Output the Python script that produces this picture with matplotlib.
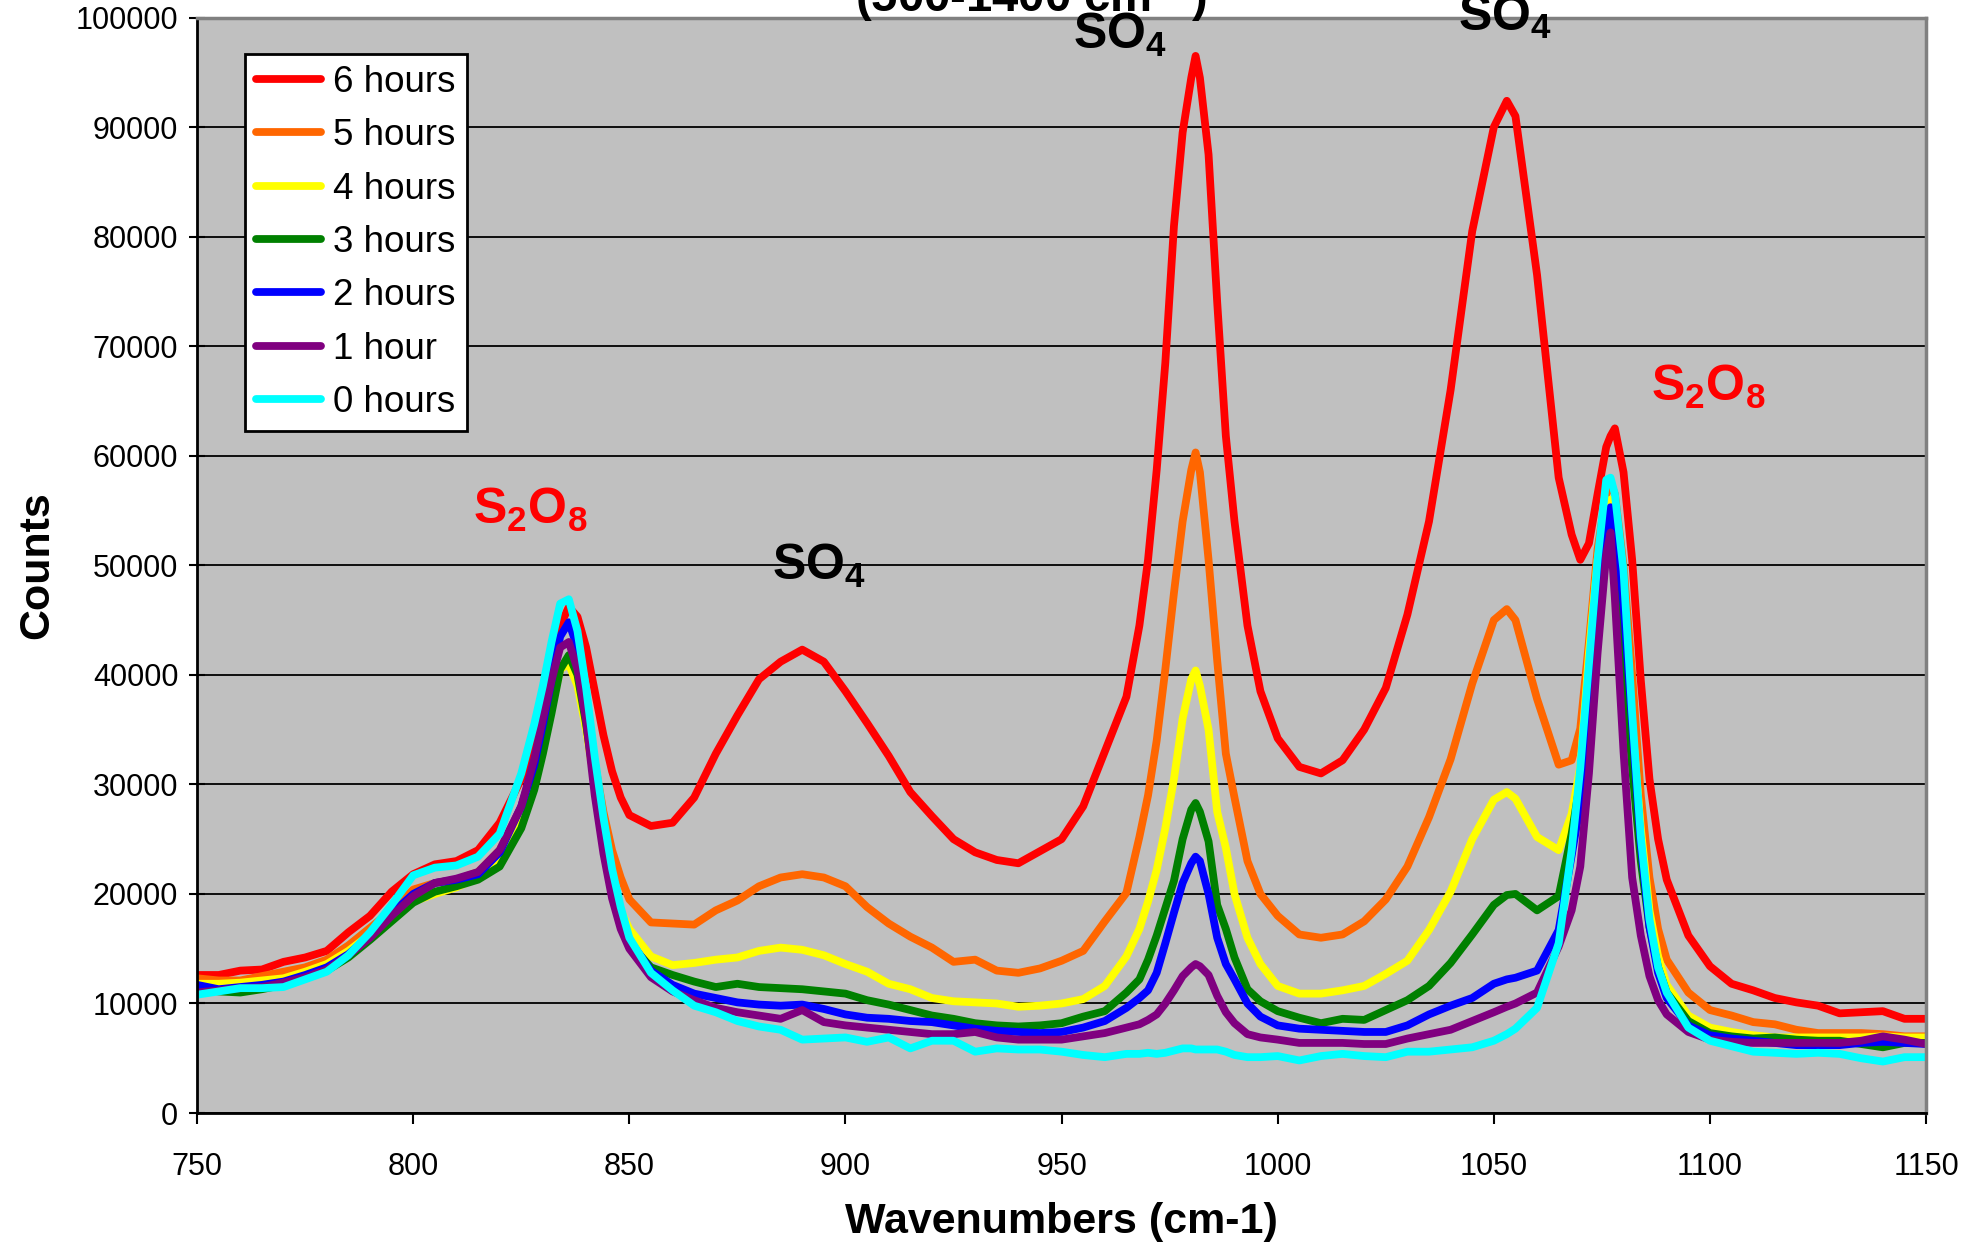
import matplotlib
matplotlib.use('Agg')
import matplotlib.pyplot as plt

plt.rcParams['font.family'] = ['Liberation Sans', 'DejaVu Sans']
plt.rcParams['mathtext.default'] = 'regular'

# wavenumber grid (cm-1), finer around the sharp peaks
wavenumber = [750, 755, 760, 765, 770, 775, 780, 785, 790, 795, 800, 805, 810, 815, 820, 825,
              828, 830, 832, 834, 836, 838, 840, 842, 844, 846, 848, 850,
              855, 860, 865, 870, 875, 880, 885, 890, 895, 900, 905, 910, 915, 920, 925, 930,
              935, 940, 945, 950, 955, 960, 965,
              968, 970, 972, 974, 976, 978, 980, 981, 982, 984, 986, 988, 990, 993, 996, 1000,
              1005, 1010, 1015, 1020, 1025, 1030, 1035, 1040, 1045, 1050, 1053, 1055, 1060, 1065,
              1068, 1070, 1072, 1074, 1076, 1077, 1078, 1080, 1082, 1084, 1086, 1088, 1090,
              1095, 1100, 1105, 1110, 1115, 1120, 1125, 1130, 1135, 1140, 1145, 1150]

hours_6 = [12600, 12600, 13000, 13100, 13800, 14200, 14800, 16500, 18000, 20200, 21800, 22700, 23000, 24000, 26500, 30500,
           34500, 38500, 41500, 44500, 46200, 45300, 42500, 38500, 34500, 31200, 28800, 27200,
           26200, 26500, 28800, 32800, 36300, 39600, 41200, 42300, 41200, 38500, 35600, 32600, 29300, 27100, 25000, 23800,
           23100, 22800, 23900, 25000, 28000, 33000, 38000,
           44500, 50500, 58700, 68500, 81000, 89500, 94500, 96500, 94500, 87500, 74000, 61800, 54000, 44500, 38500, 34200,
           31600, 31000, 32200, 35000, 38800, 45500, 54000, 66000, 80500, 90000, 92400, 91000, 76500, 58000,
           52800, 50500, 52000, 56500, 60800, 61800, 62500, 58500, 50500, 39500, 30500, 25000, 21300,
           16200, 13400, 11800, 11200, 10500, 10100, 9800, 9100, 9200, 9300, 8600, 8600]

hours_5 = [12300, 12100, 12100, 12500, 12900, 13300, 14000, 15300, 16900, 18500, 20400, 21000, 21300, 22000, 24000, 27800,
           31000, 34000, 37500, 40500, 41500, 40000, 36500, 32000, 27500, 24000, 21500, 19500,
           17400, 17300, 17200, 18500, 19400, 20700, 21500, 21800, 21500, 20700, 18800, 17300, 16100, 15100, 13800, 14000,
           13000, 12800, 13200, 13900, 14800, 17500, 20100,
           25200, 29000, 34000, 40500, 47500, 54000, 58700, 60300, 58500, 50500, 41300, 32800, 28800, 23000, 20000, 18000,
           16300, 16000, 16300, 17500, 19500, 22500, 27000, 32300, 39200, 45000, 46000, 45000, 37800, 31800,
           32200, 35100, 43000, 51500, 56500, 57500, 56500, 50000, 40000, 29000, 21500, 16800, 14000,
           11000, 9400, 8900, 8300, 8100, 7600, 7300, 7300, 7300, 7200, 7000, 7000]

hours_4 = [11800, 11800, 11900, 12100, 12300, 12900, 13600, 14800, 16300, 17800, 19300, 20000, 20600, 21500, 23200, 27000,
           30500, 33500, 37000, 40500, 41000, 39000, 35000, 30000, 25500, 21500, 18500, 16800,
           14300, 13500, 13700, 14000, 14200, 14800, 15100, 14900, 14400, 13600, 12900, 11800, 11300, 10500, 10200, 10100,
           10000, 9700, 9800, 10000, 10400, 11600, 14300,
           16800, 19300, 22200, 26000, 30500, 36000, 39600, 40400, 39000, 35000, 27500, 24200, 20000, 16000, 13600, 11600,
           10900, 10900, 11200, 11600, 12700, 13900, 16700, 20200, 25000, 28600, 29300, 28700, 25200, 24000,
           27300, 31600, 42000, 50500, 55500, 56000, 54500, 46000, 35500, 26000, 18500, 14300, 11700,
           8900, 7800, 7400, 7100, 6900, 6900, 6900, 6900, 6900, 7000, 6900, 6900]

hours_3 = [11300, 11100, 11000, 11300, 11700, 12300, 13000, 14200, 15800, 17500, 19200, 20200, 20700, 21300, 22500, 26000,
           29500, 32800, 36500, 40500, 41800, 40000, 35500, 30000, 24800, 20800, 17500, 15500,
           13300, 12600, 12000, 11500, 11800, 11500, 11400, 11300, 11100, 10900, 10300, 9900, 9400, 8900, 8600, 8200,
           8000, 7900, 8000, 8200, 8800, 9300, 11000,
           12200, 14000, 16200, 18700, 21200, 25000, 27700, 28300, 27500, 24800, 19000, 16800, 14200, 11300, 10200, 9300,
           8700, 8200, 8600, 8500, 9400, 10300, 11600, 13700, 16300, 19000, 19900, 20000, 18500, 19800,
           25500, 30300, 39500, 47500, 53000, 54000, 51500, 42000, 31500, 23000, 17000, 13300, 11000,
           8400, 7300, 7000, 6800, 6900, 6700, 6600, 6600, 6300, 6000, 6400, 6400]

hours_2 = [11700, 11300, 11500, 11700, 12000, 12600, 13300, 14500, 16200, 18200, 20000, 21000, 21300, 21800, 23800, 28000,
           31800, 35500, 39500, 43500, 44800, 42500, 37500, 31500, 26000, 21500, 18000, 15800,
           13000, 11700, 10900, 10500, 10100, 9900, 9800, 9900, 9500, 9000, 8700, 8600, 8400, 8300, 8000, 7700,
           7500, 7400, 7300, 7400, 7800, 8400, 9600,
           10500, 11200, 12800, 15500, 18300, 21000, 22800, 23400, 23000, 20000, 16000, 13600, 12200, 10000, 8800, 8000,
           7700, 7600, 7500, 7400, 7400, 8000, 9000, 9800, 10500, 11800, 12200, 12350, 13000, 16700,
           23500, 28200, 35500, 45000, 53000, 55300, 53500, 46500, 35500, 24500, 17000, 12800, 10500,
           8000, 7100, 6800, 6600, 6400, 6200, 6200, 6200, 6400, 6500, 6400, 6300]

hours_1 = [11000, 11200, 11400, 11500, 11900, 12400, 13100, 14400, 16000, 18000, 19800, 21000, 21400, 22000, 24000, 28000,
           32300, 36000, 39500, 42500, 43000, 40500, 35800, 29000, 23700, 19600, 16800, 15000,
           12400, 11100, 10300, 9600, 9200, 8900, 8600, 9400, 8300, 8000, 7800, 7600, 7400, 7200, 7200, 7400,
           6900, 6700, 6700, 6700, 7000, 7300, 7800,
           8100, 8500, 9000, 10000, 11200, 12500, 13300, 13600, 13400, 12600, 10700, 9200, 8200, 7200, 6900, 6700,
           6400, 6400, 6400, 6300, 6300, 6800, 7200, 7600, 8400, 9200, 9700, 10000, 11000, 15200,
           18500, 22500, 31000, 42000, 51000, 53000, 47000, 33000, 21500, 16200, 12500, 10300, 9000,
           7400, 6700, 6500, 6400, 6400, 6400, 6400, 6400, 6600, 7000, 6700, 6300]

hours_0 = [10800, 11100, 11400, 11400, 11500, 12200, 12900, 14400, 16500, 19000, 21700, 22400, 22600, 23400, 25500, 31000,
           35500, 39000, 43000, 46500, 46900, 44000, 38800, 32500, 27000, 22300, 18800, 16000,
           12800, 11200, 9800, 9200, 8400, 7900, 7600, 6700, 6800, 6900, 6500, 6900, 5900, 6600, 6600, 5600,
           5900, 5800, 5800, 5600, 5300, 5100, 5400,
           5400, 5500, 5400, 5500, 5700, 5900, 5900, 5800, 5800, 5800, 5800, 5600, 5300, 5100, 5100, 5200,
           4800, 5200, 5400, 5200, 5100, 5600, 5600, 5800, 6000, 6600, 7200, 7700, 9600, 15500,
           24000, 31500, 41000, 50500, 57800, 58000, 56500, 49500, 36500, 25200, 17700, 13300, 11000,
           7800, 6600, 6100, 5600, 5500, 5400, 5500, 5400, 5000, 4700, 5100, 5100]

labels = ['6 hours', '5 hours', '4 hours', '3 hours', '2 hours', '1 hour', '0 hours']
colors = ['#FF0000', '#FF6600', '#FFFF00', '#008000', '#0000FF', '#800080', '#00FFFF']
all_series = [hours_6, hours_5, hours_4, hours_3, hours_2, hours_1, hours_0]

fig = plt.figure(figsize=(19.67, 12.45), dpi=100)
ax = fig.add_axes([0.1002, 0.1060, 0.8790, 0.8799])
ax.set_facecolor('#C0C0C0')

for vals, lab, col in zip(all_series, labels, colors):
    ax.plot(wavenumber, vals, color=col, lw=5.6, label=lab,
            solid_joinstyle='round', solid_capstyle='round')

ax.set_xlim(750, 1150)
ax.set_ylim(0, 100000)
ax.set_xticks(range(750, 1151, 50))
ax.set_yticks(range(0, 100001, 10000))
ax.yaxis.grid(True, color='black', lw=1.3)
ax.set_axisbelow(True)

for s in ['left', 'bottom']:
    ax.spines[s].set_color('black')
    ax.spines[s].set_linewidth(2)
for s in ['top', 'right']:
    ax.spines[s].set_color('#808080')
    ax.spines[s].set_linewidth(2.5)

ax.tick_params(axis='y', direction='inout', length=11, width=1.5, labelsize=22, pad=8)
ax.tick_params(axis='x', direction='out', length=8, width=1.5, labelsize=22, pad=20)

ax.set_ylabel('Counts', fontsize=31, fontweight='bold')
ax.yaxis.set_label_coords(-0.081, 0.5)
ax.set_xlabel('Wavenumbers (cm-1)', fontsize=31, fontweight='bold')
ax.xaxis.set_label_coords(0.5, -0.081)

# title is partly cut off at the top edge in the original
fig.text(1031 / 1967, 1 - 12 / 1245, r'(500-1400 cm$^{-1}$)', ha='center', va='baseline',
         fontsize=34, fontweight='bold')

leg = ax.legend(loc='upper left', bbox_to_anchor=(0.0278, 0.967), fontsize=26.5,
                frameon=True, fancybox=False, edgecolor='black', framealpha=1,
                borderaxespad=0, handlelength=1.75, handletextpad=0.35,
                labelspacing=0.5, borderpad=0.3)
leg.get_frame().set_linewidth(2)

# peak labels
ax.text(813.9, 53800, r'S$_2$O$_8$', color='red', fontsize=36, fontweight='bold', va='baseline')
ax.text(882.9, 48700, r'SO$_4$', color='black', fontsize=36, fontweight='bold', va='baseline')
ax.text(952.7, 97100, r'SO$_4$', color='black', fontsize=36, fontweight='bold', va='baseline')
ax.text(1041.8, 98750, r'SO$_4$', color='black', fontsize=36, fontweight='bold', va='baseline')
ax.text(1086.4, 65000, r'S$_2$O$_8$', color='red', fontsize=36, fontweight='bold', va='baseline')

fig.savefig('out.png', dpi=100)
